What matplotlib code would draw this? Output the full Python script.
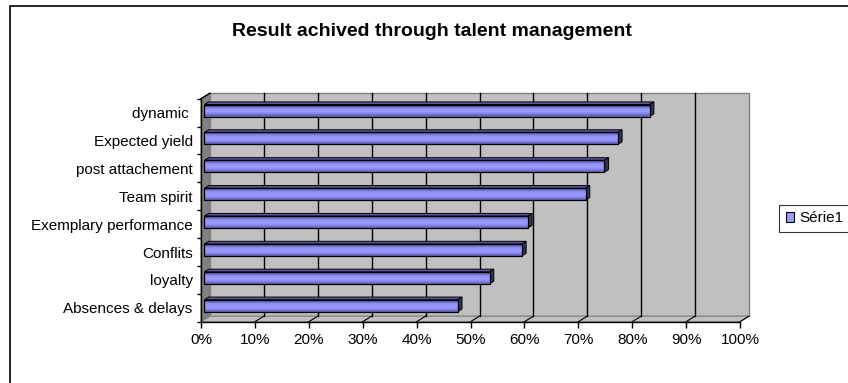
import numpy as np
import matplotlib
matplotlib.use("Agg")
import matplotlib.pyplot as plt
import matplotlib.transforms as mtransforms
from matplotlib.patches import Polygon, Rectangle, Patch
from matplotlib.colors import LinearSegmentedColormap

plt.rcParams["font.family"] = ["Liberation Sans", "DejaVu Sans"]

# survey results, bottom to top
categories = ["Absences & delays", "loyalty", "Conflits", "Exemplary performance",
              "Team spirit", "post attachement", "Expected yield", "dynamic "]
values = [0.470, 0.529, 0.589, 0.600, 0.707, 0.742, 0.767, 0.826]
series_name = "Série1"
xticks = [i / 10 for i in range(11)]
xtick_labels = ["{}%".format(i * 10) for i in range(11)]

W, H, DPI = 8.48, 3.83, 100
DX_PT, DY_PT = 6.5, 4.0      # depth of the 3d box, in points
BAR_H = 0.43
BAR_D0, BAR_D1 = 0.38, 0.85  # bar depth range (fraction of box depth)

fig = plt.figure(figsize=(W, H), dpi=DPI)
fig.patch.set_facecolor("white")

# front plane of the box
ax = fig.add_axes([201 / 848, (383 - 321.7) / 383, 539 / 848, 223 / 383])
ax.set_xlim(0, 1)
ax.set_ylim(-0.5, len(categories) - 0.5)
ax.patch.set_visible(False)

ymin, ymax = ax.get_ylim()


def to_fig(pts):
    """(x, y, depth) data points -> figure fraction coords"""
    out = []
    scale = fig.dpi / 72.0
    for x, y, d in pts:
        px, py = ax.transData.transform((x, y))
        px += DX_PT * scale * d
        py += DY_PT * scale * d
        out.append(fig.transFigure.inverted().transform((px, py)))
    return np.array(out)


def face(pts, fc, ec, lw=0.8, z=1):
    p = Polygon(to_fig(pts), closed=True, facecolor=fc, edgecolor=ec,
                linewidth=lw, transform=fig.transFigure, clip_on=False, zorder=z)
    ax.add_patch(p)


def line3d(p0, p1, color, lw=0.8, z=1.5):
    xy = to_fig([p0, p1])
    ax.plot(xy[:, 0], xy[:, 1], color=color, lw=lw, transform=fig.transFigure,
            clip_on=False, zorder=z)


# walls
face([(0, ymin, 1), (1, ymin, 1), (1, ymax, 1), (0, ymax, 1)], "#c0c0c0", "#808080", 1.0, 0.5)
face([(0, ymin, 0), (0, ymax, 0), (0, ymax, 1), (0, ymin, 1)], "#808080", "#808080", 0.8, 0.6)
face([(0, ymin, 0), (1, ymin, 0), (1, ymin, 1), (0, ymin, 1)], "#c0c0c0", "#808080", 0.8, 0.6)
line3d((0, ymax, 0), (0, ymax, 1), "black", 1.0)

# gridlines on back wall and floor
for x in xticks[1:-1]:
    line3d((x, ymin, 1), (x, ymax, 1), "black", 1.0, 0.7)
    line3d((x, ymin, 0), (x, ymin, 1), "black", 0.8, 0.7)
line3d((1, ymin, 0), (1, ymin, 1), "black", 0.8, 0.7)

# bars
grad = LinearSegmentedColormap.from_list(
    "bar", ["#4c4c8a", "#8a8af0", "#9c9cff", "#8d8df5", "#6464b8"])
front = mtransforms.offset_copy(ax.transData, fig=fig, x=DX_PT * BAR_D0,
                                y=DY_PT * BAR_D0, units="points")
n_strips = 12
for i, v in enumerate(values):
    top = i + BAR_H / 2
    bot = i - BAR_H / 2
    face([(0, top, BAR_D0), (v, top, BAR_D0), (v, top, BAR_D1), (0, top, BAR_D1)],
         "#5a5aa0", "black", 0.7, 2)
    face([(v, bot, BAR_D0), (v, top, BAR_D0), (v, top, BAR_D1), (v, bot, BAR_D1)],
         "#32325e", "black", 0.7, 2)
    edges = np.linspace(top, bot, n_strips + 1)
    for k in range(n_strips):
        ax.barh((edges[k] + edges[k + 1]) / 2, v, height=(edges[k] - edges[k + 1]) * 1.05,
                left=0, color=grad(k / (n_strips - 1)), linewidth=0,
                transform=front, zorder=3)
    ax.barh(i, v, height=BAR_H, left=0, facecolor="none", edgecolor="black",
            linewidth=0.9, transform=front, zorder=4)

# axes
for s in ["top", "right"]:
    ax.spines[s].set_visible(False)
for s in ["left", "bottom"]:
    ax.spines[s].set_color("black")
    ax.spines[s].set_linewidth(1.0)
    ax.spines[s].set_zorder(5)

ax.set_xticks(xticks)
ax.set_xticklabels(xtick_labels, fontsize=11)
ax.tick_params(axis="x", length=4, width=1, pad=4, color="black")
ax.set_yticks(range(len(categories)))
ax.set_yticklabels(categories, fontsize=11)
ax.set_yticks(np.arange(len(categories) + 1) - 0.5, minor=True)
ax.tick_params(axis="y", which="major", length=0, pad=6)
ax.tick_params(axis="y", which="minor", length=3, width=1, color="black")

fig.text(432 / 848, 1 - 31.7 / 383, "Result achived through talent management",
         ha="center", va="center", fontsize=14, fontweight="bold")

# legend
leg = fig.legend([Patch(facecolor="#9999ff", edgecolor="black", linewidth=0.8)],
                 [series_name], loc="center left",
                 bbox_to_anchor=(779 / 848, 1 - 218.5 / 383), fontsize=11,
                 fancybox=False, frameon=True, borderpad=0.45,
                 handlelength=0.55, handleheight=0.55, handletextpad=0.3,
                 borderaxespad=0)
leg.get_frame().set_edgecolor("black")
leg.get_frame().set_linewidth(0.8)

# chart border
fig.patches.append(Rectangle((10 / 848, -0.1), 1.2, 1.1 - 6 / 383, fill=False,
                             edgecolor="black", linewidth=1.2,
                             transform=fig.transFigure, figure=fig))

fig.savefig("out.png", dpi=DPI)
